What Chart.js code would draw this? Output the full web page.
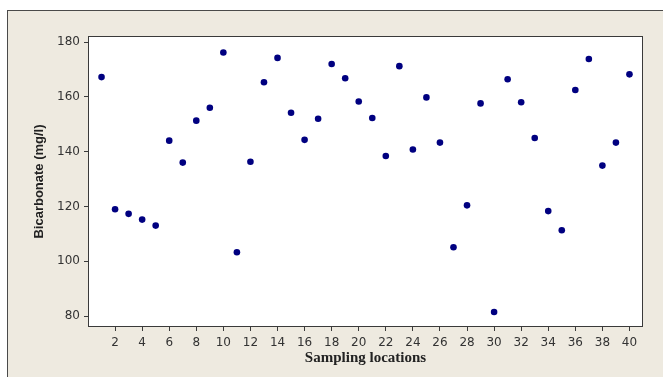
<!DOCTYPE html>
<html>
<head>
<meta charset="utf-8">
<script src="https://cdn.jsdelivr.net/npm/chart.js@4.4.1/dist/chart.umd.min.js"></script>
<style>
  html, body { margin: 0; padding: 0; background: #fff; }
  #wrap { position: relative; width: 663px; height: 377px; overflow: hidden; }
  #frame {
    position: absolute; left: 7px; top: 10px; width: 700px; height: 400px;
    background: #eeeae0; border-left: 1px solid #4a4a4a; border-top: 1px solid #4a4a4a;
  }
  #chart { position: absolute; left: 0; top: 0; }
</style>
</head>
<body>
<div id="wrap">
  <div id="frame"></div>
  <canvas id="chart" width="663" height="377"></canvas>
</div>
<script>
// sampling locations and measured bicarbonate (mg/l)
const locations = [1, 2, 3, 4, 5, 6, 7, 8, 9, 10, 11, 12, 13, 14, 15, 16, 17, 18, 19, 20,
  21, 22, 23, 24, 25, 26, 27, 28, 29, 30, 31, 32, 33, 34, 35, 36, 37, 38, 39, 40];
const bicarbonate = [167.2, 119.0, 117.3, 115.2, 113.0, 144.0, 136.0, 151.3, 156.0, 176.2,
  103.3, 136.3, 165.3, 174.2, 154.2, 144.3, 152.0, 172.0, 166.8, 158.3,
  152.3, 138.4, 171.2, 140.8, 159.8, 143.3, 105.1, 120.4, 157.6, 81.5,
  166.4, 158.0, 145.0, 118.3, 111.3, 162.5, 173.8, 134.9, 143.3, 168.2];
const xTicks = [2, 4, 6, 8, 10, 12, 14, 16, 18, 20, 22, 24, 26, 28, 30, 32, 34, 36, 38, 40];
const yTicks = [80, 100, 120, 140, 160, 180];

const points = locations.map((x, i) => ({ x: x, y: bicarbonate[i] }));

// white plot area with a dark frame
const plotFrame = {
  id: "plotFrame",
  beforeDraw(chart) {
    const { ctx, chartArea: a } = chart;
    ctx.save();
    ctx.fillStyle = "#ffffff";
    ctx.fillRect(a.left, a.top, a.right - a.left, a.bottom - a.top);
    ctx.restore();
  },
  afterDraw(chart) {
    const { ctx, chartArea: a } = chart;
    ctx.save();
    ctx.strokeStyle = "#3a3a3a";
    ctx.lineWidth = 1;
    ctx.strokeRect(a.left + 0.5, a.top + 0.5, a.right - a.left - 1, a.bottom - a.top - 1);
    ctx.restore();
  },
};

const tickFont = { family: "'DejaVu Sans', sans-serif", size: 12 };

new Chart(document.getElementById("chart").getContext("2d"), {
  type: "scatter",
  data: {
    datasets: [
      {
        data: points,
        backgroundColor: "#000080",
        borderColor: "#000080",
        pointRadius: 3.3,
        pointBorderWidth: 0,
      },
    ],
  },
  options: {
    responsive: false,
    animation: false,
    devicePixelRatio: 1,
    layout: { padding: { top: 36, right: 20, left: 0, bottom: 0 } },
    plugins: { legend: { display: false }, tooltip: { enabled: false } },
    scales: {
      x: {
        type: "linear",
        min: 0,
        max: 41,
        afterBuildTicks: (s) => { s.ticks = xTicks.map((v) => ({ value: v })); },
        afterFit: (s) => { s.height = 50; },
        grid: { drawOnChartArea: false, tickLength: 4, color: "#3a3a3a" },
        border: { display: false },
        ticks: { color: "#333", font: tickFont, padding: 5, maxRotation: 0, autoSkip: false },
        title: {
          display: true,
          text: "Sampling locations",
          color: "#222",
          font: { family: "'Liberation Serif', 'Times New Roman', serif", size: 15, weight: "bold" },
          padding: { top: 0, bottom: 10 },
        },
      },
      y: {
        min: 76,
        max: 182.2,
        afterBuildTicks: (s) => { s.ticks = yTicks.map((v) => ({ value: v })); },
        afterFit: (s) => { s.width = 88; },
        grid: { drawOnChartArea: false, tickLength: 4, color: "#3a3a3a" },
        border: { display: false },
        ticks: { color: "#333", font: tickFont, padding: 4 },
        title: {
          display: true,
          text: "Bicarbonate (mg/l)",
          color: "#222",
          font: { family: "'Liberation Sans', Arial, sans-serif", size: 13, weight: "bold" },
          padding: { top: 32, bottom: 0 },
        },
      },
    },
  },
  plugins: [plotFrame],
});
</script>
</body>
</html>
